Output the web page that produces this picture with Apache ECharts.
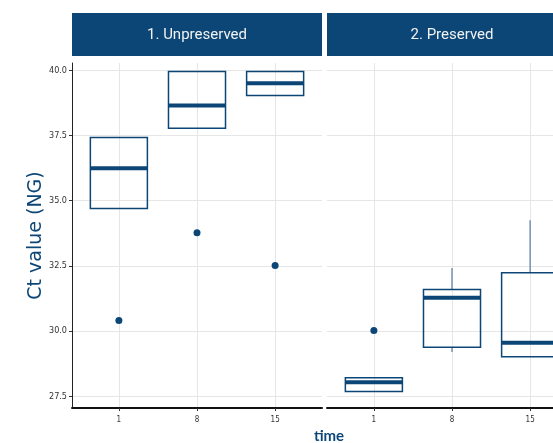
<!DOCTYPE html>
<html>
<head>
<meta charset="utf-8">
<script src="https://cdn.jsdelivr.net/npm/echarts@6/dist/echarts.min.js"></script>
<style>
  html, body { margin: 0; padding: 0; background: #fff; }
  #chart { width: 553px; height: 443px; }
</style>
</head>
<body>
<div id="chart"></div>
<script>
// data
const timeLabels = ['1', '8', '15']
const panelTitles = ['1. Unpreserved', '2. Preserved']
const yTicks = [27.5, 30, 32.5, 35, 37.5, 40]

// [lower whisker, Q1, median, Q3, upper whisker] per time point
const unpreservedBoxes = [
  [34.70, 34.70, 36.24, 37.42, 37.42],
  [37.78, 37.78, 38.65, 39.95, 39.95],
  [39.03, 39.03, 39.50, 39.95, 39.95]
]
const unpreservedOutliers = [30.41, 33.77, 32.51]

const preservedBoxes = [
  [27.68, 27.68, 28.04, 28.21, 28.21],
  [29.20, 29.38, 31.28, 31.59, 32.42],
  [29.02, 29.02, 29.55, 32.24, 34.25]
]
const preservedOutliers = [30.02, null, null]

const navy = '#0c4676'
const whiskerColor = '#6a8bad'
const BOX_WIDTH = 0.73

const chart = echarts.init(document.getElementById('chart'))

const boxData = boxes => boxes.map((b, i) => [i + 1].concat(b))
const outlierData = pts => pts.map((v, i) => [i + 1, v]).filter(p => p[1] != null)

function renderBox(params, api) {
  const x = api.value(0)
  const lo = api.coord([x, api.value(1)])
  const q1 = api.coord([x, api.value(2)])
  const med = api.coord([x, api.value(3)])
  const q3 = api.coord([x, api.value(4)])
  const hi = api.coord([x, api.value(5)])
  const half = api.size([BOX_WIDTH, 0])[0] / 2
  const cx = q1[0]
  const children = []
  if (hi[1] < q3[1] - 0.5) {
    children.push({ type: 'line', shape: { x1: cx, y1: hi[1], x2: cx, y2: q3[1] }, style: { stroke: whiskerColor, lineWidth: 1.4 } })
  }
  if (lo[1] > q1[1] + 0.5) {
    children.push({ type: 'line', shape: { x1: cx, y1: q1[1], x2: cx, y2: lo[1] }, style: { stroke: whiskerColor, lineWidth: 1.4 } })
  }
  children.push({
    type: 'rect',
    shape: { x: cx - half, y: q3[1], width: half * 2, height: q1[1] - q3[1] },
    style: { fill: 'rgba(255,255,255,0)', stroke: navy, lineWidth: 1.5 }
  })
  children.push({
    type: 'line',
    shape: { x1: cx - half, y1: med[1], x2: cx + half, y2: med[1] },
    style: { stroke: navy, lineWidth: 4 }
  })
  return { type: 'group', children }
}

const tickFont = 'Liberation Sans Narrow, DejaVu Sans Condensed, Roboto, sans-serif'
const gridLefts = [72, 327]
const panelWidth = 250

const xAxes = gridLefts.map((l, gi) => ({
  type: 'value',
  gridIndex: gi,
  min: 0.4,
  max: 3.6,
  axisLine: { show: true, onZero: false, lineStyle: { color: '#111', width: 2 } },
  axisTick: { show: true, length: 3, customValues: [1, 2, 3], lineStyle: { color: '#333' } },
  axisLabel: {
    customValues: [1, 2, 3],
    formatter: v => timeLabels[Math.round(v) - 1],
    fontSize: 8, color: '#333', margin: 8, fontFamily: tickFont
  },
  splitLine: { show: true, lineStyle: { color: '#e6e6e6', width: 1 } }
}))

const yAxes = gridLefts.map((l, gi) => ({
  type: 'value',
  gridIndex: gi,
  min: 27.05,
  max: 40.28,
  name: gi === 0 ? 'Ct value (NG)' : '',
  nameLocation: 'middle',
  nameGap: 24,
  nameTextStyle: { color: navy, fontSize: 19, fontFamily: 'DejaVu Sans, sans-serif', fontWeight: 'normal' },
  axisLine: { show: gi === 0, onZero: false, lineStyle: { color: '#222', width: 1 } },
  axisTick: { show: gi === 0, length: 3, customValues: yTicks, lineStyle: { color: '#333' } },
  axisLabel: {
    show: gi === 0,
    customValues: yTicks,
    formatter: v => v.toFixed(1),
    fontSize: 9, color: '#333', margin: 5, fontFamily: tickFont
  },
  splitLine: { show: true, lineStyle: { color: '#e6e6e6', width: 1 } }
}))

const stripGraphics = []
gridLefts.forEach((l, i) => {
  stripGraphics.push({
    type: 'rect', left: l, top: 13, z: 10,
    shape: { width: panelWidth, height: 43 },
    style: { fill: navy }
  })
  stripGraphics.push({
    type: 'text', z: 11,
    x: l + panelWidth / 2, y: 35,
    style: {
      text: panelTitles[i], fill: '#f2f2f2', fontSize: 15,
      fontFamily: 'Roboto, sans-serif', align: 'center', verticalAlign: 'middle'
    }
  })
})
stripGraphics.push({
  type: 'text', x: 329, y: 436,
  style: {
    text: 'time', fill: navy, fontSize: 15, fontWeight: 'bold',
    fontFamily: 'Lato, sans-serif', align: 'center', verticalAlign: 'middle'
  }
})

const option = {
  backgroundColor: '#fff',
  animation: false,
  grid: gridLefts.map(l => ({ left: l, top: 63, width: panelWidth, height: 345, outerBoundsMode: 'none', containLabel: false })),
  xAxis: xAxes,
  yAxis: yAxes,
  graphic: stripGraphics,
  series: [
    { type: 'custom', xAxisIndex: 0, yAxisIndex: 0, renderItem: renderBox, encode: { x: 0, y: [1, 2, 3, 4, 5] }, data: boxData(unpreservedBoxes), z: 3 },
    { type: 'custom', xAxisIndex: 1, yAxisIndex: 1, renderItem: renderBox, encode: { x: 0, y: [1, 2, 3, 4, 5] }, data: boxData(preservedBoxes), z: 3 },
    { type: 'scatter', xAxisIndex: 0, yAxisIndex: 0, symbolSize: 7, itemStyle: { color: navy, opacity: 1 }, data: outlierData(unpreservedOutliers), z: 4 },
    { type: 'scatter', xAxisIndex: 1, yAxisIndex: 1, symbolSize: 7, itemStyle: { color: navy, opacity: 1 }, data: outlierData(preservedOutliers), z: 4 }
  ]
}

chart.setOption(option)
</script>
</body>
</html>
